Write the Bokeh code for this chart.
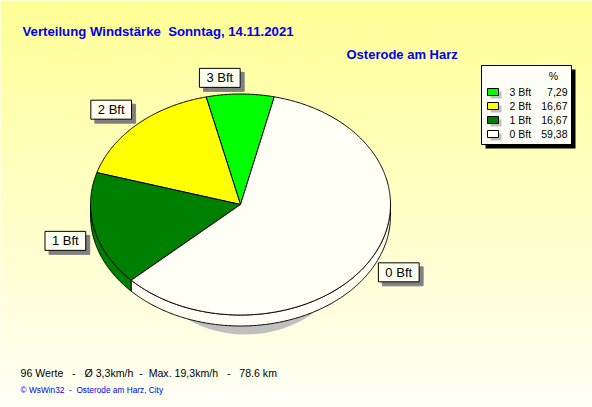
import numpy as np
from bokeh.plotting import figure
from bokeh.models import Range1d, ColumnDataSource
from bokeh.embed import file_html
from bokeh.resources import INLINE
from bokeh.core.properties import value

# ---------------- data ----------------
categories = ["3 Bft", "2 Bft", "1 Bft", "0 Bft"]
percent = [7.29, 16.67, 16.67, 59.38]
percent_labels = ["7,29", "16,67", "16,67", "59,38"]
colors = ["#00FF00", "#FFFF00", "#008000", "#FFFFF6"]

title_text = "Verteilung Windstärke  Sonntag, 14.11.2021"
subtitle_text = "Osterode am Harz"
stats_text = "96 Werte   -   Ø 3,3km/h  -  Max. 19,3km/h   -   78.6 km"
credit_text = "© WsWin32  -  Osterode am Harz, City"


def keep_spaces(s):
    # keep runs of spaces visible in SVG text
    return s.replace("  ", " \u00a0").replace("\u00a0 ", "\u00a0\u00a0")

# ---------------- layout / style ----------------
W, H = 592, 407
FONT = value("Liberation Sans")
BLUE = "#0000EE"

p = figure(width=W, height=H, x_range=Range1d(0, W), y_range=Range1d(H, 0),
           output_backend="svg", toolbar_location=None, min_border=0,
           x_axis_location=None, y_axis_location=None)
p.grid.visible = False
p.outline_line_color = None
p.background_fill_color = "#FFFFE0"
p.border_fill_color = "#FFFFE0"

# background vertical gradient
n = 100
edges = np.linspace(0, H, n + 1)
mid = (edges[:-1] + edges[1:]) / 2
bvals = 150 + (246 - 150) * (mid / float(H))
grad_cols = ["#FFFF%02X" % int(round(b)) for b in bvals]
p.quad(left=0, right=W, top=edges[:-1], bottom=edges[1:] + 0.5,
       fill_color=grad_cols, line_color=None)

# ---------------- pie geometry ----------------
CX, CY, RX, RY, DEPTH = 240.0, 204.0, 150.0, 110.5, 11.0
START = 77.0

fr = np.array(percent) / np.sum(percent)
a_start = START + 360 * np.concatenate([[0], np.cumsum(fr)[:-1]])
a_end = START + 360 * np.cumsum(fr)

def ex(a, r=1.0):
    return CX + r * RX * np.cos(np.radians(a))

def ey(a, r=1.0, dy=0.0):
    return CY + dy - r * RY * np.sin(np.radians(a))

# shadow under the pie
p.ellipse(x=CX + 5, y=CY + 49, width=200, height=162, fill_color="#C0C0C0", line_color=None)

# side bands (front half of the pie)
side_xs, side_ys, side_cols = [], [], []
for a1, a2, c in zip(a_start, a_end, colors):
    for base in (0, 360):
        lo = max(a1, 180 + base)
        hi = min(a2, 360 + base)
        if hi > lo:
            t = np.linspace(lo, hi, max(4, int((hi - lo) * 2)))
            xs = np.concatenate([ex(t), ex(t[::-1])])
            ys = np.concatenate([ey(t), ey(t[::-1], dy=DEPTH)])
            side_xs.append(list(xs)); side_ys.append(list(ys)); side_cols.append(c)
p.patches(side_xs, side_ys, fill_color=side_cols, line_color="black", line_width=1)

# top faces
top_xs, top_ys = [], []
for a1, a2 in zip(a_start, a_end):
    t = np.linspace(a1, a2, max(4, int((a2 - a1) * 2)))
    top_xs.append([CX] + list(ex(t)) + [CX])
    top_ys.append([CY] + list(ey(t)) + [CY])
p.patches(top_xs, top_ys, fill_color=colors, line_color="black", line_width=1)

# slice labels
mids = (a_start + a_end) / 2
lx = ex(mids, 1.06)
ly = ey(mids, 1.06)
anchors = []
for m in mids:
    c, s = np.cos(np.radians(m)), np.sin(np.radians(m))
    anchors.append(("bottom" if s > 0 else "top") + "_" + ("left" if c > 0 else "right"))
lab_src = ColumnDataSource(dict(x=lx, y=ly, text=categories, anchor=anchors))
p.text(x="x", y="y", text="text", anchor="anchor", source=lab_src, x_offset=4, y_offset=4,
       text_font=FONT, text_font_size="13px", text_alpha=0,
       background_fill_color="#808080", border_line_color="#808080", padding=(7, 2))
p.text(x="x", y="y", text="text", anchor="anchor", source=lab_src,
       text_font=FONT, text_font_size="13px", text_color="black",
       background_fill_color="#FFFFF0", border_line_color="black", padding=(7, 2))

# ---------------- titles ----------------
p.text(x=[22], y=[30.5], text=[keep_spaces(title_text)], text_font=FONT, text_font_size="13.2px",
       text_font_style="bold", text_color=BLUE, text_baseline="alphabetic")
p.text(x=[346], y=[54], text=[subtitle_text], text_font=FONT, text_font_size="13px",
       text_font_style="bold", text_color=BLUE, text_baseline="alphabetic")
p.text(x=[20], y=[372.7], text=[keep_spaces(stats_text)], text_font=FONT, text_font_size="10.6px",
       text_color="black", text_baseline="alphabetic")
p.text(x=[20], y=[389], text=[keep_spaces(credit_text)], text_font=FONT, text_font_size="8.3px",
       text_color=BLUE, text_baseline="alphabetic")

# ---------------- legend ----------------
LL, LR, LT, LB = 481, 571, 65, 144
p.quad(left=LL + 4, right=LR + 4, top=LT + 4, bottom=LB + 4, fill_color="black", line_color=None)
p.quad(left=LL, right=LR, top=LT, bottom=LB, fill_color="#FFFFF8", line_color="black", line_width=1)
p.text(x=[553], y=[75.5], text=["%"], text_font=FONT, text_font_size="10.5px",
       text_color="black", text_align="center", text_baseline="middle")
rows = np.arange(len(categories))
ry = 91.5 + 14 * rows
p.quad(left=490, right=501, top=ry - 0.5, bottom=ry + 6.5, fill_color="#C0C0C0", line_color=None)
p.quad(left=487, right=498, top=ry - 3.5, bottom=ry + 3.5, fill_color=colors, line_color="black", line_width=1)
p.text(x=[509] * len(rows), y=ry, text=categories, text_font=FONT, text_font_size="10.5px",
       text_color="black", text_baseline="middle")
p.text(x=[567] * len(rows), y=ry, text=percent_labels, text_font=FONT, text_font_size="10.5px",
       text_color="black", text_baseline="middle", text_align="right")

open("out.html", "w").write(file_html(p, INLINE))
